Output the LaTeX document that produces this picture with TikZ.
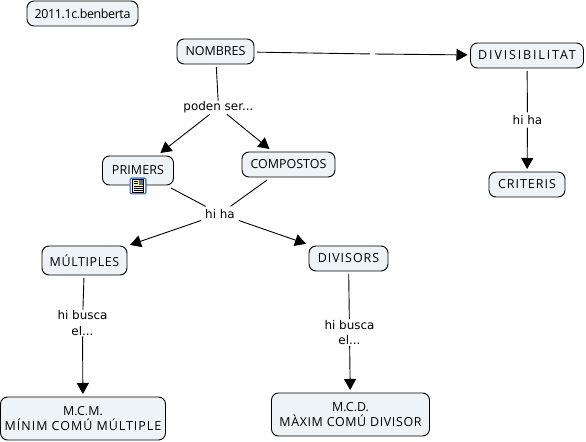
\documentclass[tikz,border=0pt]{standalone}
\usepackage{fontspec}
\setmainfont{Open Sans}
\newfontfamily\labelfont{DejaVu Sans}
\newcommand{\spaced}[1]{\addfontfeature{LetterSpace=#1}}
\usetikzlibrary{arrows.meta}
\definecolor{boxfill}{HTML}{EDF3F6}
\definecolor{iconblue}{HTML}{3F78C0}
\tikzset{
  x=1bp,y=-1bp,
  concept/.style={draw=black,line width=0.9bp,fill=boxfill,rounded corners=7bp,inner sep=0pt,outer sep=3bp,align=center,font=\fontsize{12.5}{15.5}\selectfont,text=black},
  linklabel/.style={inner sep=1bp,outer sep=0pt,align=center,font=\labelfont\fontsize{12}{15.5}\selectfont,text=black},
  widelabel/.style={linklabel,inner xsep=4bp,inner ysep=3bp},
  link/.style={draw=black,line width=0.9bp},
  arrowlink/.style={link,-{Triangle[length=11bp,width=12bp]}},
}
\begin{document}
\begin{tikzpicture}
\useasboundingbox (0,0) rectangle (586,442);
\node[concept,minimum width=111bp,minimum height=25bp] (tag) at (82.5,13.5) {\spaced{-3}2011.1c.benberta};
\node[concept,minimum width=77bp,minimum height=25bp] (nombres) at (215.5,51.5) {NOMBRES};
\node[concept,minimum width=71bp,minimum height=29bp] (primers) at (138,170.5) {\spaced{1}PRIMERS};
\node[concept,minimum width=93bp,minimum height=25bp] (compostos) at (288.5,164.5) {COMPOSTOS};
\node[concept,minimum width=113bp,minimum height=25bp] (divis) at (527,55.5) {\spaced{15}DIVISIBILITAT};
\node[concept,minimum width=76bp,minimum height=25bp] (criteris) at (527,184.5) {\spaced{8}CRITERIS};
\node[concept,minimum width=85bp,minimum height=29bp] (multiples) at (84.5,260.5) {\spaced{5}MÚLTIPLES};
\node[concept,minimum width=79bp,minimum height=25bp] (divisors) at (348.5,258.5) {\spaced{8}DIVISORS};
\node[concept,minimum width=165bp,minimum height=43bp] (mcm) at (83,418.5) {M.C.M.\\\spaced{8}MÍNIM COMÚ MÚLTIPLE};
\node[concept,minimum width=158bp,minimum height=43bp] (mcd) at (350.5,414.5) {M.C.D.\\\spaced{5}MÀXIM COMÚ DIVISOR};

\node[linklabel] (poden) at (218.5,107.5) {poden ser...};
\node[widelabel] (hiha) at (220,214) {hi ha};
\node[widelabel] (hiha2) at (527.5,120) {hi ha};
\node[linklabel] (busca1) at (82.5,323) {hi busca\\el...};
\node[linklabel] (busca2) at (349.5,332.5) {hi busca\\el...};
\node[minimum width=5bp,minimum height=2bp,inner sep=0pt] (gap) at (372.5,54) {};

\draw[link] (nombres) -- (poden);
\draw[arrowlink] (poden) -- (primers);
\draw[arrowlink] (poden) -- (compostos);
\draw[link] (primers) -- (hiha);
\draw[link] (compostos) -- (hiha);
\draw[arrowlink] (hiha) -- (multiples);
\draw[arrowlink] (hiha) -- (divisors);
\draw[link] (multiples) -- (busca1);
\draw[arrowlink] (busca1) -- (mcm);
\draw[link] (divisors) -- (busca2);
\draw[arrowlink] (busca2) -- (mcd);
\draw[link] (nombres) -- (gap);
\draw[arrowlink] (gap) -- (divis);
\draw[link] (divis) -- (hiha2);
\draw[arrowlink] (hiha2) -- (criteris);

% resource icon on PRIMERS
\fill[iconblue,rounded corners=2bp] (129.5,177.5) rectangle (146.5,194.5);
\fill[white,rounded corners=1bp] (130.8,178.8) rectangle (145.2,193.2);
\draw[black,line width=0.6bp,fill=boxfill!70!yellow] (132.5,179.5) rectangle (143.5,192.5);
\fill[black!60] (138.5,180.5) rectangle (142.8,185);
\fill[iconblue] (139.5,181) rectangle (142.3,183);
\draw[black,line width=0.8bp] (133.5,181.5) -- (137.5,181.5) (133.5,183.5) -- (137.5,183.5) (133.5,186.5) -- (142.5,186.5) (133.5,188.5) -- (142.5,188.5) (133.5,190.5) -- (142.5,190.5);
\end{tikzpicture}
\end{document}
